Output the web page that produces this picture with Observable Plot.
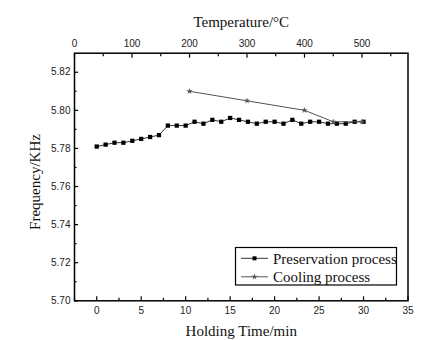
<!DOCTYPE html>
<html><head><meta charset="utf-8">
<script src="https://cdn.jsdelivr.net/npm/d3@7"></script>
<script src="https://cdn.jsdelivr.net/npm/@observablehq/plot@0.6"></script>
<style>
body{margin:0;background:#fff;}
#chart{position:relative;width:439px;height:340px;overflow:hidden;}
#chart > svg, #chart > div{position:absolute;left:0;top:0;}
</style></head><body><div id="chart"></div>
<script>
// Preservation process: holding time (min) vs frequency (KHz)
const holdTime = [0,1,2,3,4,5,6,7,8,9,10,11,12,13,14,15,16,17,18,19,20,21,22,23,24,25,26,27,28,29,30];
const presFreq = [5.781,5.782,5.783,5.783,5.784,5.785,5.786,5.787,5.792,5.792,5.792,5.794,5.793,5.795,5.794,5.796,5.795,5.794,5.793,5.794,5.794,5.793,5.795,5.793,5.794,5.794,5.793,5.793,5.793,5.794,5.794];
// Cooling process: temperature (°C) vs frequency (KHz)
const coolTemp = [200,300,400,450,500];
const coolFreq = [5.810,5.805,5.800,5.794,5.794];
// Tick labels
const timeTicks = [0,5,10,15,20,25,30,35];
const timeMinor = [-2.5,2.5,7.5,12.5,17.5,22.5,27.5,32.5];
const tempTicks = [0,100,200,300,400,500];
const tempMinor = [50,150,250,350,450,550];
const freqTicks = [5.70,5.72,5.74,5.76,5.78,5.80,5.82];
const freqMinor = [5.71,5.73,5.75,5.77,5.79,5.81];
const legendLabels = ["Preservation process","Cooling process"];

const W = 439, H = 340;
const M = {marginLeft:74, marginRight:31.5, marginTop:52.7, marginBottom:39.7};
const serif = "'Liberation Serif', 'Times New Roman', serif";
const sans = "'Liberation Sans', Arial, sans-serif";
const yDomain = [5.70, 5.83];

const presData = holdTime.map((t,i)=>({t, f:presFreq[i]}));
const coolData = coolTemp.map((T,i)=>({T, f:coolFreq[i]}));

const blank = () => "";

const mainPlot = Plot.plot({
  width: W, height: H, ...M,
  style: {fontFamily: sans, fontSize: "10px", color: "#222", background: "transparent"},
  x: {domain: [-2.5, 35]},
  y: {domain: yDomain},
  marks: [
    Plot.axisX(timeTicks, {anchor:"bottom", tickSize:-4, tickFormat: blank, label:null, stroke:"#000", strokeWidth:1.2}),
    Plot.axisX(timeMinor, {anchor:"bottom", tickSize:-2.5, tickFormat: blank, label:null, stroke:"#000", strokeWidth:1.2}),
    Plot.axisX(timeTicks, {anchor:"bottom", tickSize:0, tickPadding:6, label:null, fill:"#222"}),
    Plot.axisY(freqTicks, {anchor:"left", tickSize:-4, tickFormat: blank, label:null, stroke:"#000", strokeWidth:1.2}),
    Plot.axisY(freqMinor, {anchor:"left", tickSize:-2.5, tickFormat: blank, label:null, stroke:"#000", strokeWidth:1.2}),
    Plot.axisY(freqTicks, {anchor:"left", tickSize:0, tickPadding:4, label:null, tickFormat: d3.format(".2f"), fill:"#222"}),
    Plot.line(presData, {x:"t", y:"f", stroke:"#333", strokeWidth:1}),
    Plot.dot(presData, {x:"t", y:"f", symbol:"square", r:2.4, fill:"#000", stroke:null}),
    Plot.text(["Holding Time/min"], {frameAnchor:"bottom", dy:30, lineAnchor:"middle", textAnchor:"middle", fontFamily: serif, fontSize:15, fill:"#111"}),
    Plot.text(["Frequency/KHz"], {frameAnchor:"left", dx:-39, dy:5, rotate:-90, lineAnchor:"middle", textAnchor:"middle", fontFamily: serif, fontSize:15, fill:"#111"}),
    Plot.frame({stroke:"#000", strokeWidth:1.5})
  ]
});

const tempPlot = Plot.plot({
  width: W, height: H, ...M,
  style: {fontFamily: sans, fontSize: "10px", color: "#222", background: "transparent"},
  x: {domain: [0, 580]},
  y: {domain: yDomain, axis: null},
  marks: [
    Plot.axisX(tempTicks, {anchor:"top", tickSize:-4, tickFormat: blank, label:null, stroke:"#000", strokeWidth:1.2}),
    Plot.axisX(tempMinor, {anchor:"top", tickSize:-2.5, tickFormat: blank, label:null, stroke:"#000", strokeWidth:1.2}),
    Plot.axisX(tempTicks, {anchor:"top", tickSize:0, tickPadding:6, label:null, fill:"#222"}),
    Plot.line(coolData, {x:"T", y:"f", stroke:"#555", strokeWidth:1}),
    Plot.dot(coolData, {x:"T", y:"f", symbol:"star", r:2.0, fill:"#555", stroke:null}),
    Plot.text(["Temperature/°C"], {frameAnchor:"top", dy:-30.7, lineAnchor:"middle", textAnchor:"middle", fontFamily: serif, fontSize:15, fill:"#111"})
  ]
});

const chart = document.getElementById("chart");
chart.appendChild(mainPlot);
chart.appendChild(tempPlot);

// Legend box
const lg = d3.select(chart).append("svg")
  .attr("width", W).attr("height", H)
  .style("position","absolute").style("left","0").style("top","0");
const bx = 235.5, by = 247.5, bw = 161, bh = 37.5;
lg.append("rect").attr("x",bx).attr("y",by).attr("width",bw).attr("height",bh)
  .attr("fill","#fff").attr("stroke","#000").attr("stroke-width",1.2);
const rows = [
  {label: legendLabels[0], color:"#333", sym: d3.symbolSquare, size: 16, fill:"#000"},
  {label: legendLabels[1], color:"#555", sym: d3.symbolStar, size: 12, fill:"#555"}
];
rows.forEach((r,i)=>{
  const yy = 258.3 + i*18.5;
  lg.append("line").attr("x1",241).attr("x2",268).attr("y1",yy).attr("y2",yy)
    .attr("stroke", r.color).attr("stroke-width",1);
  lg.append("path").attr("d", d3.symbol(r.sym, r.size)()).attr("transform",`translate(254.5,${yy})`).attr("fill", r.fill);
  lg.append("text").attr("x",273).attr("y",yy).attr("dy","0.35em")
    .attr("font-family", serif).attr("font-size",15).attr("fill","#111").text(r.label);
});
</script></body></html>
